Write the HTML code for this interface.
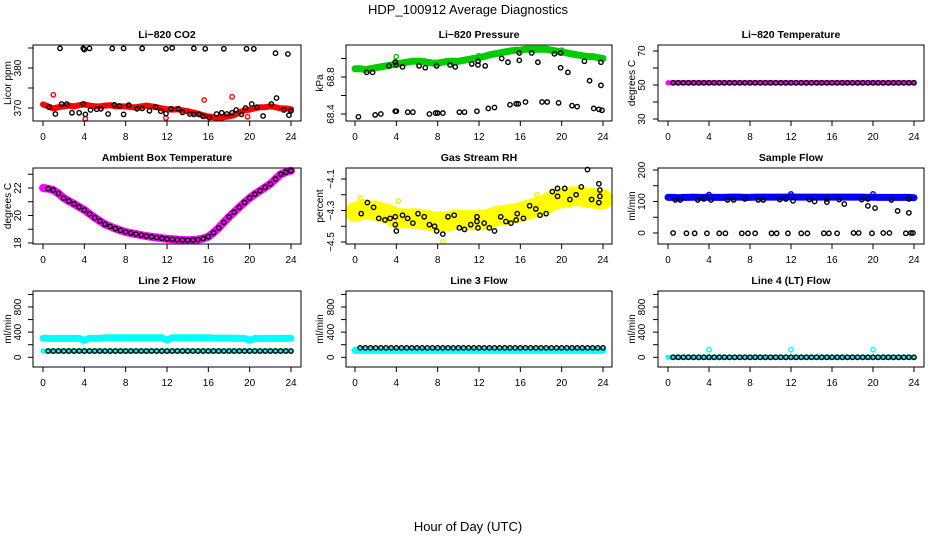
<!DOCTYPE html>
<html><head><meta charset="utf-8"><style>
html,body{margin:0;padding:0;background:#fff;}
svg{display:block;font-family:"Liberation Sans",Arial,sans-serif;}
</style></head><body>
<svg id="c" width="936" height="540" viewBox="0 0 936 540" xmlns="http://www.w3.org/2000/svg">
<text x="468" y="14" text-anchor="middle" font-size="13">HDP_100912  Average Diagnostics</text>
<text x="468" y="531" text-anchor="middle" font-size="13">Hour of Day (UTC)</text>
</svg>
<script>
const halfT=[0,0.5,1,1.5,2,2.5,3,3.5,4,4.5,5,5.5,6,6.5,7,7.5,8,8.5,9,9.5,10,10.5,11,11.5,12,12.5,13,13.5,14,14.5,15,15.5,16,16.5,17,17.5,18,18.5,19,19.5,20,20.5,21,21.5,22,22.5,23,23.5,24];
const xTicks=[0,4,8,12,16,20,24];
// CO2
const co2Band=[370.9,370.4,369.9,370.2,370.4,370.6,370.4,370.7,370.9,370.6,370.4,370.4,370.6,370.7,370.4,370.4,370.4,370.2,370.2,370.4,370.6,370.4,370.2,369.9,369.7,369.6,369.7,369.4,369.2,368.9,368.6,368.2,367.9,367.7,367.4,367.7,367.9,368.2,368.9,369.4,369.6,369.9,370.2,370.2,370.4,370.2,369.9,369.9,369.7];
const co2HighT=[1.65,3.9,4.0,4.5,6.7,7.8,9.6,11.9,12.5,14.6,15.7,17.5,19.7,20.4,22.5,23.7];
const co2HighV=[384.9,384.9,384.6,384.9,384.9,384.9,384.9,384.8,385.0,384.9,384.8,384.8,384.8,384.8,383.7,383.5];
const co2LowT=[0.6,1.2,1.8,2.3,2.8,3.5,3.9,4.1,4.6,5.2,5.6,6.3,6.9,7.4,7.8,8.3,9.1,9.6,10.3,10.9,11.4,11.9,12.4,13.1,13.5,14.2,14.6,15.1,15.5,16.1,16.8,17.3,17.8,18.3,18.7,19.2,19.6,20.2,20.7,21.3,22.1,22.6,23.3,23.8,24];
const co2LowV=[370.2,368.5,371,371,368.8,368.8,371,368.4,369.5,369.7,369.8,368.5,370.8,370.5,368.4,370.7,369.8,369.9,369.3,370.2,369.2,368.6,369.8,369.8,368.9,368.5,368.4,368.4,367.9,367.6,368.5,368.8,368.5,368.8,369.5,368.4,370,371,370.2,368,371,372.5,369.5,368.2,369.3];
const co2RedOutT=[1.0,4.1,11.9,15.6,18.3,19.8];
const co2RedOutV=[373.3,367.3,367.5,372,372.8,367.8];
// Pressure
const presBand=[68.89,68.89,68.88,68.89,68.90,68.91,68.92,68.93,68.94,68.95,68.96,68.97,68.97,68.97,68.96,68.95,68.95,68.96,68.97,68.97,68.97,68.98,68.99,69.00,69.01,69.02,69.04,69.05,69.06,69.07,69.08,69.09,69.09,69.10,69.10,69.10,69.10,69.10,69.09,69.08,69.07,69.06,69.05,69.04,69.03,69.02,69.02,69.01,69.00];
const presUpT=[1.13,1.7,3.3,3.9,4.0,4.6,6.2,6.8,7.9,9.2,9.7,11.3,11.9,11.9,12.6,14.2,14.8,15.9,15.9,17.1,17.7,19.3,19.9,19.9,20.6,22.2,22.7,23.8,23.8];
const presUpV=[68.85,68.85,68.92,68.96,68.93,68.91,68.92,68.90,68.92,68.93,68.91,68.94,68.97,68.93,68.92,69.0,68.96,69.06,68.98,69.06,68.96,69.05,69.06,68.90,68.85,68.97,68.76,68.71,68.96];
const presLowT=[0.33,1.95,2.5,3.9,4.0,5.1,5.6,7.2,7.8,8.0,8.5,10.1,10.6,11.8,12.9,13.5,15.0,15.6,15.8,16.5,18.1,18.6,19.7,21.0,21.5,23.1,23.6,23.9];
const presLowV=[68.37,68.39,68.40,68.43,68.43,68.42,68.42,68.40,68.41,68.41,68.41,68.42,68.42,68.43,68.46,68.47,68.50,68.51,68.51,68.53,68.53,68.53,68.52,68.49,68.48,68.46,68.45,68.44];
const presGreenOutT=[4.0,12.0,20.0];
const presGreenOutV=[69.02,69.03,69.09];
// Li-820 temperature
const tempBand=[51.3,51.3,51.3,51.3,51.3,51.3,51.3,51.3,51.3,51.3,51.3,51.3,51.3,51.3,51.3,51.3,51.3,51.3,51.3,51.3,51.3,51.3,51.3,51.3,51.3,51.3,51.3,51.3,51.3,51.3,51.3,51.3,51.3,51.3,51.3,51.3,51.3,51.3,51.3,51.3,51.3,51.3,51.3,51.3,51.3,51.3,51.3,51.3,51.3];
// Ambient
const ambBand=[22.0,21.95,21.85,21.6,21.27,21.05,20.85,20.62,20.4,20.12,19.85,19.6,19.36,19.2,19.05,18.92,18.8,18.72,18.65,18.57,18.5,18.45,18.4,18.35,18.3,18.27,18.25,18.22,18.2,18.22,18.25,18.33,18.46,18.75,19.1,19.5,19.9,20.25,20.6,20.95,21.27,21.55,21.8,22.05,22.3,22.65,23.0,23.15,23.26];
// RH
const rhBand=[-4.31,-4.30,-4.29,-4.30,-4.30,-4.31,-4.32,-4.33,-4.35,-4.35,-4.35,-4.35,-4.35,-4.36,-4.36,-4.37,-4.37,-4.37,-4.37,-4.36,-4.36,-4.36,-4.36,-4.36,-4.36,-4.36,-4.35,-4.34,-4.33,-4.33,-4.32,-4.32,-4.31,-4.30,-4.29,-4.28,-4.28,-4.26,-4.24,-4.23,-4.22,-4.22,-4.21,-4.21,-4.21,-4.22,-4.22,-4.23,-4.23];
const rhT=[0.6,1.2,1.8,2.3,2.9,3.4,3.9,3.9,4.0,4.6,5.1,5.6,6.1,6.7,7.2,7.7,7.9,8.5,9.0,9.6,10.1,10.6,11.2,11.8,11.8,11.9,12.5,13.0,13.5,14.1,14.6,15.1,15.6,15.7,16.3,16.9,17.5,17.9,18.5,19.1,19.6,19.6,20.3,20.8,21.4,21.9,22.5,22.9,23.6,23.7,23.7,23.6];
const rhV=[-4.32,-4.25,-4.28,-4.35,-4.36,-4.35,-4.34,-4.39,-4.43,-4.33,-4.35,-4.38,-4.32,-4.34,-4.39,-4.40,-4.43,-4.45,-4.34,-4.33,-4.41,-4.42,-4.39,-4.37,-4.34,-4.41,-4.38,-4.41,-4.43,-4.34,-4.37,-4.38,-4.36,-4.32,-4.35,-4.27,-4.29,-4.33,-4.32,-4.18,-4.16,-4.21,-4.16,-4.23,-4.20,-4.15,-4.04,-4.23,-4.13,-4.17,-4.21,-4.25];
const rhYellowOutT=[0.5,4.2,8.5,17.6,21.0];
const rhYellowOutV=[-4.22,-4.24,-4.50,-4.20,-4.18];
// Sample flow
const flowBand=[113,113,112,113,113,114,113,113,114,113,113,113,114,114,114,113,113,114,114,114,114,114,114,114,115,114,114,114,114,114,114,114,114,114,114,114,114,114,114,113,114,113,113,113,113,113,113,113,112];
const flowZeroT=[0.5,1.8,2.6,3.8,5.0,5.6,7.2,7.8,8.5,10.1,10.6,11.7,13.0,13.6,15.2,15.7,16.5,18.1,18.6,19.9,21.0,21.6,23.2,23.7,23.9];
const flowZeroV=[0,-1,-1,-1,-1,-1,-1,-1,-1,-1,-1,-1,-1,-1,-1,-1,-1,0,0,-1,0,0,-1,0,0];
const flowUpT=[0.7,1.2,2.9,3.5,4.2,5.8,6.4,7.5,8.8,9.3,10.9,11.5,12.2,13.8,14.3,15.5,15.5,16.7,17.2,18.9,19.5,19.5,20.2,21.8,22.4,23.5,23.5];
const flowUpV=[105,105,105,108,105,105,105,108,105,105,106,108,102,106,100,108,98,106,92,106,108,86,79,105,70,64,108];
const flowBlueOutT=[4.0,12.0,20.0];
const flowBlueOutV=[122,124,124];
// Line 2
const line2Upper=[300,300,300,300,300,300,300,300,270,300,300,300,310,310,310,310,310,310,310,310,310,310,310,310,275,310,310,310,310,310,310,310,310,305,305,305,305,300,300,300,270,300,300,300,300,300,300,300,300];
const line2Lower=[100,100,100,100,100,100,100,100,100,100,100,100,100,100,100,100,100,100,100,100,100,100,100,100,100,100,100,100,100,100,100,100,100,100,100,100,100,100,100,100,100,100,100,100,100,100,100,100,100];
const line2Black=[100,100,100,100,100,100,100,100,100,100,100,100,100,100,100,100,100,100,100,100,100,100,100,100,100,100,100,100,100,100,100,100,100,100,100,100,100,100,100,100,100,100,100,100,100,100,100,100,100];
// Line 3
const line3Band=[110,110,110,110,110,110,110,110,110,110,110,110,110,110,110,110,110,110,110,110,110,110,110,110,110,110,110,110,110,110,110,110,110,110,110,110,110,110,110,110,110,110,110,110,110,110,110,110,110];
const line3Black=[150,150,150,150,150,150,150,150,150,150,150,150,150,150,150,150,150,150,150,150,150,150,150,150,150,150,150,150,150,150,150,150,150,150,150,150,150,150,150,150,150,150,150,150,150,150,150,150,150];
// Line 4
const line4Band=[0,0,0,0,0,0,0,0,0,0,0,0,0,0,0,0,0,0,0,0,0,0,0,0,0,0,0,0,0,0,0,0,0,0,0,0,0,0,0,0,0,0,0,0,0,0,0,0,0];
const line4Black=[0,0,0,0,0,0,0,0,0,0,0,0,0,0,0,0,0,0,0,0,0,0,0,0,0,0,0,0,0,0,0,0,0,0,0,0,0,0,0,0,0,0,0,0,0,0,0,0,0];
const line4CyanT=[4,12,20];
const line4CyanV=[120,120,120];

const NS='http://www.w3.org/2000/svg';
const svg=document.getElementById('c');
function mk(tag,attrs,parent){const e=document.createElementNS(NS,tag);for(const k in attrs)e.setAttribute(k,attrs[k]);(parent||svg).appendChild(e);return e;}
const cols=[{b0:33,b1:301,x0:43,x24:291,lab:17,tit:7},{b0:346,b1:612,x0:355,x24:603,lab:330,tit:319},{b0:658,b1:924,x0:668,x24:914,lab:641,tit:631}];
const rows=[{t:45,b:121},{t:168,b:244},{t:291,b:367}];

function panel(ci,ri,name,title,ytitle,v1,p1,v2,p2,yticks,ylabels){
  const c=cols[ci],r=rows[ri];
  const g=mk('g',{});
  
  
  const X=t=>c.x0+(c.x24-c.x0)*t/24;
  const Y=v=>p1+(v-v1)*(p2-p1)/(v2-v1);
  const tt=mk('text',{x:(c.b0+c.b1)/2,y:r.t-7,'text-anchor':'middle','font-size':'10.5','font-weight':'bold'},g);
  tt.textContent=title;
  
  
  const clip=mk('g',{},g);
  const fr=mk('rect',{x:c.b0,y:r.t,width:c.b1-c.b0,height:r.b-r.t,fill:'none',stroke:'#000','stroke-width':1},g);
  
  
  xTicks.forEach(t=>{
    mk('line',{x1:X(t),x2:X(t),y1:r.b,y2:r.b+5,stroke:'#000'},g);
    const l=mk('text',{x:X(t),y:r.b+19,'text-anchor':'middle','font-size':'10'},g);
    l.textContent=t;
    
    
  });
  yticks.forEach(v=>{mk('line',{x1:c.b0-5,x2:c.b0,y1:Y(v),y2:Y(v),stroke:'#000'},g);});
  ylabels.forEach(v=>{
    const l=mk('text',{x:0,y:0,'text-anchor':'middle','font-size':'10',transform:`translate(${c.lab+4},${Y(v)}) rotate(-90)`},g);
    l.textContent=String(v).replace('-','\u2212');
    
    
  });
  const yt=mk('text',{x:0,y:0,'text-anchor':'middle','font-size':'10',transform:`translate(${c.tit+4},${(r.t+r.b)/2}) rotate(-90)`},g);
  yt.textContent=ytitle;
  
  
  return {g:clip,X,Y};
}
function band(p,ts,vs,color,w,name){
  const pts=ts.map((t,i)=>p.X(t).toFixed(1)+','+p.Y(vs[i]).toFixed(1)).join(' ');
  const pl=mk('polyline',{points:pts,fill:'none',stroke:color,'stroke-width':w,'stroke-linejoin':'round','stroke-linecap':'round'},p.g);
  
  
}
function pts(p,ts,vs,color,name,start){
  for(let i=(start||0);i<ts.length;i++){
    const e=mk('circle',{cx:p.X(ts[i]),cy:p.Y(vs[i]),r:2.2,fill:'none',stroke:color,'stroke-width':1.4},p.g);
    
    
  }
}
let p=panel(0,0,'co2-panel','Li\u2212820 CO2','Licor ppm',370,108,380,68,[370,375,380,385],[370,380]);
band(p,halfT,co2Band,'#ff0000',6,'co2-band');
pts(p,co2RedOutT,co2RedOutV,'#ff0000','co2-red-point');
pts(p,co2HighT,co2HighV,'#000','co2-point');
pts(p,co2LowT,co2LowV,'#000','co2-point');
p=panel(1,0,'pressure-panel','Li\u2212820 Pressure','kPa',68.4,114,68.8,77,[68.4,68.6,68.8,69.0],['68.4','68.8']);
band(p,halfT,presBand,'#00cc00',7,'pressure-band');
pts(p,presGreenOutT,presGreenOutV,'#00cc00','pressure-green-point');
pts(p,presUpT,presUpV,'#000','pressure-point');
pts(p,presLowT,presLowV,'#000','pressure-point');
p=panel(2,0,'li820-temp-panel','Li\u2212820 Temperature','degrees C',50,85,70,51,[30,40,50,60,70],[30,50,70]);
band(p,halfT,tempBand,'#ff00ff',5,'li820-temp-band');
pts(p,halfT,tempBand,'#000','li820-temp-point',1);
p=panel(0,1,'ambient-temp-panel','Ambient Box Temperature','degrees C',22,188,20,215.5,[18,19,20,21,22,23],[18,20,22]);
band(p,halfT,ambBand,'#ff00ff',8,'ambient-temp-band');
pts(p,halfT,ambBand,'#000','ambient-temp-point',1);
p=panel(1,1,'rh-panel','Gas Stream RH','percent',-4.1,179,-4.5,242,[-4.5,-4.4,-4.3,-4.2,-4.1],['-4.5','-4.3','-4.1']);
band(p,halfT,rhBand,'#ffff00',20,'rh-band');
pts(p,rhYellowOutT,rhYellowOutV,'#eeee00','rh-yellow-point');
pts(p,rhT,rhV,'#000','rh-point');
p=panel(2,1,'sample-flow-panel','Sample Flow','ml/min',0,233,200,170,[0,50,100,150,200],[0,100,200]);
band(p,halfT,flowBand,'#0000ff',7,'sample-flow-band');
pts(p,flowBlueOutT,flowBlueOutV,'#0000ff','sample-flow-blue-point');
pts(p,flowZeroT,flowZeroV,'#000','sample-flow-point');
pts(p,flowUpT,flowUpV,'#000','sample-flow-point');
p=panel(0,2,'line2-panel','Line 2 Flow','ml/min',0,357.3,800,307,[0,200,400,600,800,1000],[0,400,800]);
band(p,halfT,line2Upper,'#00ffff',7,'line2-upper-band');
band(p,halfT,line2Lower,'#00ffff',5,'line2-lower-band');
pts(p,halfT,line2Black,'#000','line2-point',1);
p=panel(1,2,'line3-panel','Line 3 Flow','ml/min',0,357.3,800,307,[0,200,400,600,800,1000],[0,400,800]);
band(p,halfT,line3Band,'#00ffff',7,'line3-band');
pts(p,halfT,line3Black,'#000','line3-point',1);
p=panel(2,2,'line4-panel','Line 4 (LT) Flow','ml/min',0,357.3,800,307,[0,200,400,600,800,1000],[0,400,800]);
band(p,halfT,line4Band,'#00ffff',5,'line4-band');
pts(p,line4CyanT,line4CyanV,'#00ffff','line4-cyan-point');
pts(p,halfT,line4Black,'#000','line4-point',1);
</script>
</body></html>
